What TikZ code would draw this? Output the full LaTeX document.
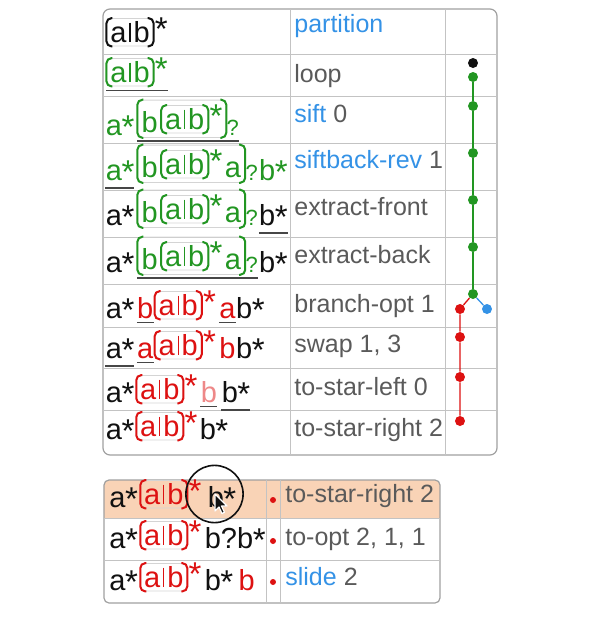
\documentclass[tikz,border=0pt]{standalone}
\usepackage{fontspec}
\setmainfont{Liberation Sans}
\usetikzlibrary{fit}
\definecolor{ink}{RGB}{17,17,17}
\definecolor{grn}{RGB}{34,150,34}
\definecolor{rd}{RGB}{221,17,17}
\definecolor{pnk}{RGB}{238,136,136}
\definecolor{blu}{RGB}{52,146,230}
\definecolor{nmg}{RGB}{90,90,90}
\definecolor{boxg}{RGB}{212,212,212}
\definecolor{ulg}{RGB}{70,70,70}
\definecolor{hl}{RGB}{249,211,182}
\definecolor{frameg}{RGB}{160,160,160}
\definecolor{lineg}{RGB}{195,195,195}
\newcommand\exfont{\fontsize{14.5}{17}\selectfont}
\newcommand\qmfont{\fontsize{11}{13}\selectfont}
\newcommand\namefont{\fontsize{12.5}{15}\selectfont}
\newcommand\stf{\kern-0.25pt\raisebox{-1.75pt}{\fontsize{16.5}{16.5}\selectfont*}\kern-0.25pt}
\begin{document}
\begin{tikzpicture}[x=0.5pt,y=-0.5pt,
  tok/.style={inner sep=0pt,anchor=base west,font=\exfont,text=#1},tok/.default=ink,
  qm/.style={inner sep=0pt,anchor=base west,font=\qmfont,text=#1},qm/.default=ink,
  stx/.style={inner sep=0pt,anchor=north west,font=\exfont,text=#1,xshift=0.75pt,yshift=0.5pt},stx/.default=ink,
  ab/.style={draw=boxg,rounded corners=2.5pt,inner xsep=1.75pt,inner ysep=0pt,text height=11.75pt,text depth=2pt,
    anchor=base west,font=\exfont,text=#1,
    path picture={\draw[#1,line width=0.7pt] ([yshift=-2pt]path picture bounding box.north) -- ([yshift=2pt]path picture bounding box.south);}},
  grp/.style={draw=boxg,rounded corners=2.5pt,inner xsep=1.75pt,inner ysep=2pt},
  brk/.style={line width=1pt,rounded corners=2.5pt},
  ul/.style={draw=ulg,line width=0.75pt},
  nm/.style={inner sep=0pt,anchor=base west,font=\namefont,text=nmg},
  dot/.style={circle,fill=#1,inner sep=0pt,minimum size=5pt},
  lnk/.style={draw=#1,line width=0.65pt},
  tabframe/.style={draw=frameg,line width=0.6pt},
  cellline/.style={draw=lineg,line width=0.5pt}]
  \useasboundingbox (0,0) rectangle (600,618);

  % highlighted row
  \fill[hl,rounded corners=2.5pt] (104,480) rectangle (440,518);
  \fill[hl] (104,500) rectangle (440,518);

  % tables
  \draw[tabframe,rounded corners=3.5pt] (103,9) rectangle (497,455);
  \foreach \y in {54,96,143,190,237,284,327,368,410} \draw[cellline] (103,\y) -- (497,\y);
  \foreach \x in {291,446} \draw[cellline] (\x,9) -- (\x,455);
  \draw[tabframe,rounded corners=2.5pt] (104,480) rectangle (440,603);
  \foreach \y in {518,560} \draw[cellline] (104,\y) -- (440,\y);
  \foreach \x in {267,281} \draw[cellline] (\x,480) -- (\x,603);

  % row 1
  \node[ab=ink] (g1) at (106.5,42) {a\kern3.5pt b};
  \node[stx] (s1) at (g1.north east) {\stf};
  % row 2
  \node[ab=grn] (g2) at (106.5,82) {a\kern3.5pt b};
  \node[stx=grn] (s2) at (g2.north east) {\stf};
  \draw[ul] ([yshift=-2pt]g2.south west) -- ([yshift=-2pt]g2.south west -| s2.east);
  % row 3
  \node[tok=grn] (a3) at (105.5,135) {a\stf};
  \node[tok=grn,xshift=3.5pt,yshift=1.5pt] (b3) at (a3.base east) {b};
  \node[ab=grn,xshift=1.5pt,yshift=1.5pt] (i3) at (b3.base east) {a\kern3.5pt b};
  \node[stx=grn] (s3) at (i3.north east) {\stf};
  \node[grp,fit=(b3)(i3)(s3)] (o3) {};
  \node[qm=grn] (q3) at (o3.east |- a3.base) {?};
  \draw[ul] ([yshift=-1.5pt]o3.south west) -- ([yshift=-1.5pt]o3.south west -| q3.east);
  % row 4
  \node[tok=grn] (a4) at (105.5,180) {a\stf};
  \node[tok=grn,xshift=3.5pt,yshift=1.5pt] (b4) at (a4.base east) {b};
  \node[ab=grn,xshift=1.5pt,yshift=1.5pt] (i4) at (b4.base east) {a\kern3.5pt b};
  \node[stx=grn] (s4) at (i4.north east) {\stf};
  \node[tok=grn,xshift=1pt] (c4) at (s4.east |- b4.base) {a};
  \node[grp,fit=(b4)(i4)(s4)(c4)] (o4) {};
  \node[qm=grn] (q4) at (o4.east |- a4.base) {?};
  \node[tok=grn,xshift=0.25pt] (d4) at (q4.base east) {b\stf};
  \draw[ul] ([yshift=-2pt]a4.south west) -- ([yshift=-2pt]a4.south east);
  % row 5
  \node[tok] (a5) at (105.5,225) {a\stf};
  \node[tok=grn,xshift=3.5pt,yshift=1.5pt] (b5) at (a5.base east) {b};
  \node[ab=grn,xshift=1.5pt,yshift=1.5pt] (i5) at (b5.base east) {a\kern3.5pt b};
  \node[stx=grn] (s5) at (i5.north east) {\stf};
  \node[tok=grn,xshift=1pt] (c5) at (s5.east |- b5.base) {a};
  \node[grp,fit=(b5)(i5)(s5)(c5)] (o5) {};
  \node[qm=grn] (q5) at (o5.east |- a5.base) {?};
  \node[tok,xshift=0.25pt] (d5) at (q5.base east) {b\stf};
  \draw[ul] ([yshift=-2pt]d5.south west) -- ([yshift=-2pt]d5.south east);
  % row 6
  \node[tok] (a6) at (105.5,272) {a\stf};
  \node[tok=grn,xshift=3.5pt,yshift=1.5pt] (b6) at (a6.base east) {b};
  \node[ab=grn,xshift=1.5pt,yshift=1.5pt] (i6) at (b6.base east) {a\kern3.5pt b};
  \node[stx=grn] (s6) at (i6.north east) {\stf};
  \node[tok=grn,xshift=1pt] (c6) at (s6.east |- b6.base) {a};
  \node[grp,fit=(b6)(i6)(s6)(c6)] (o6) {};
  \node[qm=grn] (q6) at (o6.east |- a6.base) {?};
  \node[tok,xshift=0.25pt] (d6) at (q6.base east) {b\stf};
  \draw[ul] ([yshift=-1.5pt]o6.south west) -- ([yshift=-1.5pt]o6.south west -| q6.east);
  % row 7
  \node[tok] (a7) at (105.5,318) {a\stf};
  \node[tok=rd,xshift=1.25pt] (b7) at (a7.base east) {b};
  \node[ab=rd,xshift=0.5pt,yshift=1.5pt] (i7) at (b7.base east) {a\kern3.5pt b};
  \node[stx=rd] (s7) at (i7.north east) {\stf};
  \node[tok=rd,xshift=1.5pt] (c7) at (s7.east |- a7.base) {a};
  \node[tok] (d7) at (c7.base east) {b\stf};
  \draw[ul] ([yshift=-2pt]b7.south west) -- ([yshift=-2pt]b7.south east);
  \draw[ul] ([yshift=-2pt]c7.south west) -- ([yshift=-2pt]c7.south east);
  % row 8
  \node[tok] (a8) at (105.5,358) {a\stf};
  \node[tok=rd,xshift=1.25pt] (b8) at (a8.base east) {a};
  \node[ab=rd,xshift=0.5pt,yshift=1.5pt] (i8) at (b8.base east) {a\kern3.5pt b};
  \node[stx=rd] (s8) at (i8.north east) {\stf};
  \node[tok=rd,xshift=1.5pt] (c8) at (s8.east |- a8.base) {b};
  \node[tok] (d8) at (c8.base east) {b\stf};
  \draw[ul] ([yshift=-2pt]a8.south west) -- ([yshift=-2pt]a8.south east);
  \draw[ul] ([yshift=-2pt]b8.south west) -- ([yshift=-2pt]b8.south east);
  % row 9
  \node[tok] (a9) at (105.5,402) {a\stf};
  \node[ab=rd,xshift=1pt,yshift=1.5pt] (i9) at (a9.base east) {a\kern3.5pt b};
  \node[stx=rd] (s9) at (i9.north east) {\stf};
  \node[tok=pnk,xshift=1.5pt] (c9) at (s9.east |- a9.base) {b};
  \node[tok,xshift=2pt] (d9) at (c9.base east) {b\stf};
  \draw[ul] ([yshift=-2pt]c9.south west) -- ([yshift=-2pt]c9.south east);
  \draw[ul] ([yshift=-2pt]d9.south west) -- ([yshift=-2pt]d9.south east);
  % row 10
  \node[tok] (a10) at (105.5,439) {a\stf};
  \node[ab=rd,xshift=1pt,yshift=1.5pt] (i10) at (a10.base east) {a\kern3.5pt b};
  \node[stx=rd] (s10) at (i10.north east) {\stf};
  \node[tok,xshift=1pt] (d10) at (s10.east |- a10.base) {b\stf};
  % row 11
  \node[tok] (a11) at (109,507) {a\stf};
  \node[ab=rd,xshift=1.25pt,yshift=1.5pt] (i11) at (a11.base east) {a\kern3.5pt b};
  \node[stx=rd] (s11) at (i11.north east) {\stf};
  \node[tok,xshift=3pt] (d11) at (s11.east |- a11.base) {b\stf};
  % row 12
  \node[tok] (a12) at (109,548) {a\stf};
  \node[ab=rd,xshift=1.25pt,yshift=1.5pt] (i12) at (a12.base east) {a\kern3.5pt b};
  \node[stx=rd] (s12) at (i12.north east) {\stf};
  \node[tok,xshift=1.5pt] (d12) at (s12.east |- a12.base) {b?b\stf};
  % row 13
  \node[tok] (a13) at (109,590) {a\stf};
  \node[ab=rd,xshift=1.25pt,yshift=1.5pt] (i13) at (a13.base east) {a\kern3.5pt b};
  \node[stx=rd] (s13) at (i13.north east) {\stf};
  \node[tok,xshift=1.5pt] (d13) at (s13.east |- a13.base) {b\stf};
  \node[tok=rd,xshift=2.5pt] (e13) at (d13.base east) {b};

  % group brackets
  \foreach \g/\c in {g1/ink,g2/grn,i3/grn,o3/grn,i4/grn,o4/grn,i5/grn,o5/grn,i6/grn,o6/grn,
                     i7/rd,i8/rd,i9/rd,i10/rd,i11/rd,i12/rd,i13/rd}
    \draw[brk,\c] ([xshift=3pt]\g.north west) -- (\g.north west) -- (\g.south west) -- ([xshift=3pt]\g.south west)
                  ([xshift=-3pt]\g.north east) -- (\g.north east) -- (\g.south east) -- ([xshift=-3pt]\g.south east);

  % step names
  \node[nm,text=blu] (n1) at (294,32) {partition};
  \node[nm] (n2) at (294,82) {loop};
  \node[nm] (n3) at (294,122) {\textcolor{blu}{sift} 0};
  \node[nm] (n4) at (294,168) {\textcolor{blu}{siftback-rev} 1};
  \node[nm] (n5) at (294,215) {extract-front};
  \node[nm] (n6) at (294,263) {extract-back};
  \node[nm] (n7) at (294,312) {branch-opt 1};
  \node[nm] (n8) at (294,352) {swap 1, 3};
  \node[nm] (n9) at (294,395) {to-star-left 0};
  \node[nm] (n10) at (294,436) {to-star-right 2};
  \node[nm] (m11) at (285,502) {to-star-right 2};
  \node[nm] (m12) at (285,545) {to-opt 2, 1, 1};
  \node[nm] (m13) at (285,585) {\textcolor{blu}{slide} 2};

  % history graph
  \node[dot=ink] (k0) at (473,63) {};
  \foreach \n/\y in {1/77,2/106,3/153,4/200,5/247,6/294} \node[dot=grn] (k\n) at (473,\y) {};
  \node[dot=blu] (u1) at (487,309) {};
  \foreach \n/\y in {1/309,2/337,3/377,4/421} \node[dot=rd] (e\n) at (460,\y) {};
  \draw[lnk=grn] (k1) -- (k2) -- (k3) -- (k4) -- (k5) -- (k6);
  \draw[lnk=rd] (k6) -- (e1) -- (e2) -- (e3) -- (e4);
  \draw[lnk=blu] (k6) -- (u1);
  \foreach \n/\y in {11/500,12/541,13/582} \node[dot=rd,minimum size=3pt] (f\n) at (273,\y) {};

  % click marker
  \draw[draw=ink,line width=0.8pt] (214.5,494) circle[radius=14.3pt];
  \draw[fill=ink,draw=white,line width=0.6pt,line join=round,shift={(215,494)}]
    (0,0) -- (0,17) -- (4,13) -- (7,19.5) -- (9.5,18.3) -- (6.5,12) -- (12,12) -- cycle;
\end{tikzpicture}
\end{document}
